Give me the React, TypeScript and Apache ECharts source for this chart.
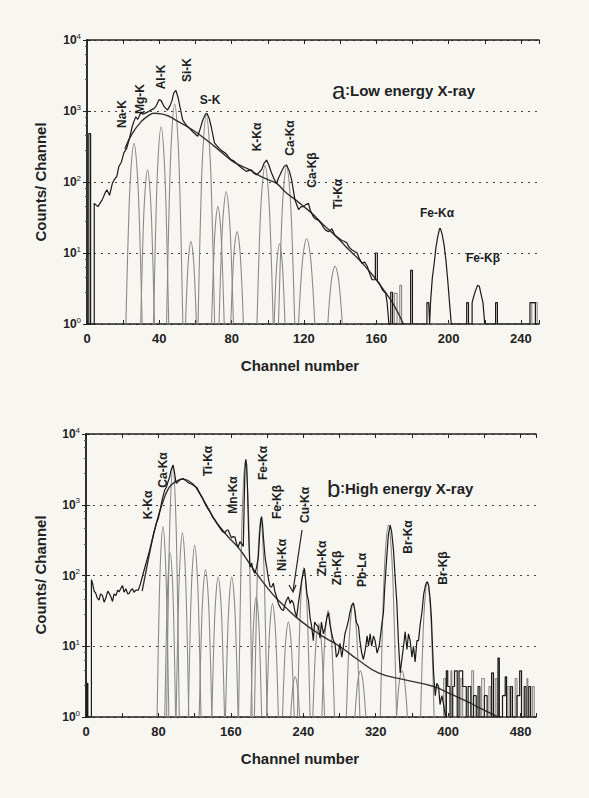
import React, { useEffect, useRef } from "react";
import * as echarts from "echarts";

const FONT = '"Liberation Sans", Arial, Helvetica, sans-serif';

// ---------- Panel a: Low energy X-ray ----------
const spectrumA: [number, number][] = [
  [0,1],[1,1],[1,480],[2,480],[2,1],[4,1],[4,50],[6,45],[8.4,56],[10,70],[11,78],[12.5,65],[14,95],[15,107],[16.5,120],[17.6,165],[19,190],[20.4,257],[22,300],[23.2,390],[24,470],[25,600],[26,720],[27,830],[28,760],[29.7,940],[31,900],[32.5,940],[34,980],[35.2,1030],[37,1080],[38,1150],[39.9,1450],[41,1400],[42.7,1150],[44.5,1030],[46,1200],[47,1400],[48,1800],[49.2,1950],[50.5,1500],[51.4,1150],[52.9,750],[54,680],[55.7,600],[57,560],[58.5,510],[60,470],[61.2,440],[62.5,550],[64,740],[65.5,900],[66.3,930],[67.5,800],[68.7,600],[70.5,355],[72,320],[73.3,295],[75,270],[77,250],[78,230],[79.8,205],[81,200],[83.5,174],[86,155],[88,141],[90.9,148],[92,135],[93.7,126],[95,135],[96.5,148],[98,185],[99.3,204],[100.5,175],[102,135],[103.5,110],[104.8,95],[106,115],[107.6,141],[109,165],[110.4,174],[112,140],[113.2,107],[115,56],[117,41],[118.5,45],[119.7,45],[121,48],[122.5,50],[123.5,40],[125.3,32],[126.5,30],[128,29],[129.5,26],[130.8,23],[132,21],[133.6,20],[135.5,22],[137,18],[138.2,17],[139.5,16],[141,15],[142.5,14.5],[143.8,13.8],[145,12],[146.6,11],[148,10.5],[149.4,10],[150.5,8.5],[152.2,7.1],[153.5,7.5],[155,6.5],[156.5,5],[157.7,4.2],[159.5,4.2],[159.5,10],[160.6,10],[160.6,4],[161.5,3.8],[162.4,3.4],[163.5,3],[165.2,2.7],[166,2],[167,1],[168,1],[168,2.8],[169,2.8],[169,1],[179,1],[179,5.7],[180,5.7],[180,1],[188,1],[188,2],[189,2],[189.5,1],[190,2],[191,4.5],[192,7],[193,12],[194,17],[195,22],[195.5,22],[196.5,18],[197.5,13],[198.5,8],[199.5,4.2],[200.5,2],[201.5,1],[210,1],[210,2],[211,2],[211,1],[213,1],[213,2],[214,2.5],[215,3],[216,3.5],[217,3.4],[218,2.6],[219,2],[220,1],[226,1],[226,2],[227,2],[227,1],[245,1],[245,2],[248,2],[248,1],[250,1],
];

const backgroundA: [number, number][] = [
  [21,295],[25,480],[30,710],[34,860],[37,930],[41,910],[45,850],[50,720],[55,610],[60,510],[65,410],[70,325],[75,255],[80,200],[85,170],[90,148],[95,124],[100,108],[105,95],[110,71],[115,57],[120,45],[125,35],[130,26],[135,20],[140,15],[145,11],[150,8.3],[155,6],[160,4.2],[165,2.8],[170,1.8],[175,1],
];

const noiseA: [number, number][] = [
  [170,1],[170,2.7],[171.5,2.7],[171.5,1],[173,1],[173,3.5],[174,3.5],[174,1],[246,1],[246,2],[249,2],[249,1],
];

const peaksA: [number, number][][] = [
  [[21.5,1],[22.85,20],[24.2,136],[26,350],[27.8,136],[29.15,20],[30.5,1]],
  [[29.7,1],[30.84,12.8],[31.98,66],[33.5,148],[35.02,66],[36.16,12.8],[37.3,1]],
  [[36.8,1],[38.06,26],[39.32,215],[41,600],[42.68,215],[43.94,26],[45.2,1]],
  [[44,1],[45.35,38],[46.7,400],[48.5,1250],[50.3,400],[51.65,38],[53,1]],
  [[54.5,1],[55.4,3.9],[56.3,9.4],[57.5,14.5],[58.7,9.4],[59.6,3.9],[60.5,1]],
  [[61.4,1],[62.78,32],[64.16,295],[66,870],[67.84,295],[69.22,32],[70.6,1]],
  [[68.9,1],[69.95,6.9],[71,24.5],[72.4,45],[73.8,24.5],[74.85,6.9],[75.9,1]],
  [[73,1],[74.2,8.9],[75.4,36],[77,73],[78.6,36],[79.8,8.9],[81,1]],
  [[79.5,1],[80.55,4.6],[81.6,12.3],[83,20],[84.4,12.3],[85.45,4.6],[86.5,1]],
  [[94,1],[95.35,13.8],[96.7,74],[98.5,170],[100.3,74],[101.65,13.8],[103,1]],
  [[103.5,1],[104.4,3.8],[105.3,8.9],[106.5,13.5],[107.7,8.9],[108.6,3.8],[109.5,1]],
  [[105.9,1],[107.25,13.5],[108.6,73],[110.4,165],[112.2,73],[113.55,13.5],[114.9,1]],
  [[117,1],[118.35,4.1],[119.7,10.2],[121.5,16],[123.3,10.2],[124.65,4.1],[126,1]],
  [[133.2,1],[134.4,2.6],[135.6,4.8],[137.2,6.5],[138.8,4.8],[140,2.6],[141.2,1]],
];

// ---------- Panel b: High energy X-ray ----------
const spectrumB: [number, number][] = [
  [0,1],[1,1],[1,3],[2,3],[2,1],[6,1],[6,87],[7,80],[9,60],[10.8,56],[12.5,48],[14.5,45],[16,55],[18.2,52],[20,42],[21.9,48],[24,60],[25.6,56],[27.5,50],[29.3,43],[31,55],[33,52],[35,62],[36.7,59],[38.5,66],[40.4,72],[42,58],[44,65],[46,55],[47.7,56],[49.5,62],[51.4,65],[53,58],[55.1,62],[57.7,62],
  [60,75],[63,105],[66,145],[70.4,230],[74,360],[77.8,550],[80,650],[83.3,1050],[85,1300],[87,1620],[89,1800],[90.5,2100],[92.5,2500],[94,3100],[96.2,3640],[97.5,3000],[99,2200],[99.9,2000],[101.5,2100],[103.6,2240],[105.5,2300],[107.3,2350],[109,2250],[111,2140],[113,2050],[114.7,2000],[117,1950],[120.2,1820],[122.5,1750],[125.7,1450],[128.5,1250],[131.2,1050],[134,900],[136.8,800],[139.5,680],[142.4,600],[145,530],[147.9,470],[150.5,420],[153.4,400],[155.5,440],[157,440],[159,380],[160.8,340],[162.5,355],[164.5,350],[166.3,280],[168,250],[170,300],[172,280],[173.7,257],
  [174.5,800],[175.5,3000],[176.5,4400],[177.5,3600],[178.5,1500],[179.5,450],[181,132],[183,150],[184.5,120],[186.6,107],[188.5,132],[190.3,180],[192,420],[193.2,640],[194,680],[195,520],[196.5,280],[198,170],[199.5,132],[201.5,90],[203.2,70],[205,69],[206.9,78],[208.5,60],[210.5,50],[212.5,40],[214.3,36],[216,33],[218,32],[220,40],[221.5,45],[223.5,50],[225.5,40],[227,45],[229,41],[231,30],[232.7,26],[234.5,40],[236.5,60],[238.3,87],[240,110],[241.2,126],[242.5,90],[244,55],[245.6,45],[247.5,25],[249,20],[251.1,12],[252.5,22],[254.5,20],[256.6,19],[258.5,13],[260,22],[262.2,15],[264,18],[266,25],[267.7,30],[269.5,20],[271.5,15],[273.2,12],[275,11],[276.5,7],[278.8,8],[280.5,11],[282.5,7],[284.3,10],[286,15],[287.8,18],[289.8,23],[291.5,30],[293.5,38],[295.4,41],[297,32],[298.5,22],[300.9,19],[302.5,12],[304.5,8],[306.4,6.5],[308.5,9],[310.5,14],[312,10],[313.8,15],[315.5,10],[317.5,14],[319.3,12],[321.5,8],[323.8,10],[325.5,15],[327,22],[328.5,30],[330,70],[332.2,185],[334,380],[335.9,515],[337.5,420],[339.6,230],[341.5,90],[343.3,41],[345,12],[347,4.2],[348.5,6],[350.7,10],[352.5,16],[354.5,9],[356.2,15],[358,12],[360,7],[361.7,10],[363.5,6],[365.5,12],[367.3,12],[369,20],[371,30],[373,55],[374.7,70],[376,80],[377.2,81],[378.5,72],[380.2,45],[381.5,25],[382.7,10],[384,4],[385.7,2],[387.5,3],[389.4,2.7],[391,1.5],[393,2],[395,1.5],[397,1],
  [398,1],[398,4.5],[399.5,4.5],[399.5,2.7],[402,2.7],[402,1],[405,1],[405,2.7],[407,2.7],[407,4.5],[410,4.5],[410,1],[412,1],[412,4.5],[416,4.5],[416,2.7],[420,2.7],[420,1],[422,1],[422,2.7],[425,2.7],[425,1],[428,1],[428,2],[431,2],[431,1],[433,1],[433,2.7],[435,2.7],[435,1],[440,1],[440,2],[443,2],[443,1],[448,1],[448,4.2],[450,4.2],[450,1],[455,1],[455,6.8],[456.5,6.8],[456.5,1],[460,1],[460,2],[463,2],[463,3.7],[464.5,3.7],[464.5,1],[469,1],[469,2.7],[471,2.7],[471,1],[476,1],[476,2],[479,2],[479,4.5],[481,4.5],[481,1],[484,1],[484,2.7],[486,2.7],[486,1],[489,1],[489,2.7],[491,2.7],[491,1],[497,1],
];

const backgroundB: [number, number][] = [
  [62,60],[66,110],[70,200],[75,400],[80,700],[85,1100],[90,1600],[95,1950],[100,2150],[106,2300],[111,2250],[115,2100],[120,1850],[125,1480],[130,1150],[135,890],[142,620],[150,450],[160,320],[168,250],[175,190],[183,132],[190,100],[200,68],[210,48],[220,36],[235,24],[257,15],[280,10],[300,6.5],[323,4.2],[350,3.4],[384,2.7],[400,2.2],[419,1.7],[437,1.3],[455,1],
];

const noiseB: [number, number][] = [
  [395,1],[395,3.5],[397,3.5],[397,1],[403,1],[403,4.5],[404,4.5],[404,1],[414,1],[414,3.5],[416,3.5],[416,1],[426,1],[426,4.5],[428,4.5],[428,1],[437,1],[437,3.5],[440,3.5],[440,1],[445,1],[445,2.7],[447,2.7],[447,1],[452,1],[452,3.5],[454,3.5],[454,1],[466,1],[466,2.7],[468,2.7],[468,1],[474,1],[474,3.5],[476,3.5],[476,1],[487,1],[487,3.5],[488,3.5],[488,1],[493,1],[493,2.7],[495,2.7],[495,1],
];

const peaksB: [number, number][][] = [
  [[78.5,1],[80.45,23.5],[82.4,182],[85,490],[87.6,182],[89.55,23.5],[91.5,1]],
  [[87,1],[88.8,15.2],[90.6,89],[93,210],[95.4,89],[97.2,15.2],[99,1]],
  [[89,1],[91.1,66],[93.2,980],[96,3600],[98.8,980],[100.9,66],[103,1]],
  [[99.5,1],[101.6,21],[103.7,153],[106.5,400],[109.3,153],[111.4,21],[113.5,1]],
  [[113,1],[115.1,17.4],[117.2,110],[120,270],[122.8,110],[124.9,17.4],[127,1]],
  [[125,1],[127.1,11.5],[129.2,56],[132,120],[134.8,56],[136.9,11.5],[139,1]],
  [[139,1],[141.1,10.2],[143.2,46],[146,95],[148.8,46],[150.9,10.2],[153,1]],
  [[154,1],[156.1,10.2],[158.2,46],[161,95],[163.8,46],[165.9,10.2],[168,1]],
  [[168.5,1],[170.75,71],[173,1100],[176,4200],[179,1100],[181.25,71],[183.5,1]],
  [[182,1],[183.8,7.4],[185.6,27],[188,50],[190.4,27],[192.2,7.4],[194,1]],
  [[186,1],[188.1,26.5],[190.2,220],[193,620],[195.8,220],[197.9,26.5],[200,1]],
  [[199.5,1],[201.45,6.6],[203.4,22],[206,40],[208.6,22],[210.55,6.6],[212.5,1]],
  [[217,1],[218.95,4.8],[220.9,13.4],[223.5,22],[226.1,13.4],[228.05,4.8],[230,1]],
  [[226,1],[227.5,1.95],[229,3],[231,3.7],[233,3],[234.5,1.95],[236,1]],
  [[233.5,1],[235.6,12],[237.7,59],[240.5,130],[243.3,59],[245.4,12],[247.5,1]],
  [[250.5,1],[252.45,4.7],[254.4,12.9],[257,21],[259.6,12.9],[261.55,4.7],[263.5,1]],
  [[260.5,1],[262.6,5.9],[264.7,18.6],[267.5,32],[270.3,18.6],[272.4,5.9],[274.5,1]],
  [[287.5,1],[289.75,6.6],[292,22],[295,40],[298,22],[300.25,6.6],[302.5,1]],
  [[297,1],[298.8,2.15],[300.6,3.5],[303,4.5],[305.4,3.5],[307.2,2.15],[309,1]],
  [[325,1],[327.7,24],[330.4,190],[334,515],[337.6,190],[340.3,24],[343,1]],
  [[343,1],[344.8,2.15],[346.6,3.5],[349,4.5],[351.4,3.5],[353.2,2.15],[355,1]],
  [[369.5,1],[371.75,9.3],[374,40],[377,80],[380,40],[382.25,9.3],[384.5,1]],
];

const labelsA: [string, number, number, boolean][] = [
  ["Na-K", 122, 114, true],
  ["Mg-K", 140, 99, true],
  ["Al-K", 161, 77, true],
  ["Si-K", 187, 70, true],
  ["S-K", 210, 100, false],
  ["K-Kα", 257, 137, true],
  ["Ca-Kα", 290, 138, true],
  ["Ca-Kβ", 312, 170, true],
  ["Ti-Kα", 338, 194, true],
  ["Fe-Kα", 437, 213, false],
  ["Fe-Kβ", 483, 258, false],
];

const labelsB: [string, number, number, boolean][] = [
  ["K-Kα", 148, 505, true],
  ["Ca-Kα", 163, 470, true],
  ["Ti-Kα", 208, 461, true],
  ["Mn-Kα", 233, 495, true],
  ["Fe-Kα", 263, 463, true],
  ["Fe-Kβ", 277, 502, true],
  ["Ni-Kα", 282, 555, true],
  ["Cu-Kα", 305, 505, true],
  ["Zn-Kα", 322, 558, true],
  ["Zn-Kβ", 337, 568, true],
  ["Pb-Lα", 362, 570, true],
  ["Br-Kα", 408, 537, true],
  ["Br-Kβ", 443, 568, true],
];

const yTickLabel = (v: number) => `{b|10}{s|${Math.round(Math.log10(v))}}`;

function makeXAxes(grid: number, max: number, interval: number, labelEvery: number) {
  const line = { lineStyle: { color: "#222", width: 1.5 } };
  return [
    {
      type: "value", gridIndex: grid, min: 0, max, interval, position: "bottom",
      axisLine: line, axisTick: { inside: true, length: 4, lineStyle: { color: "#222" } },
      splitLine: { show: false },
      axisLabel: {
        formatter: (v: number) => (v % labelEvery === 0 ? String(v) : ""),
        fontFamily: FONT, fontWeight: "bold", fontSize: 13, color: "#222", margin: 8,
      },
    },
    {
      type: "value", gridIndex: grid, min: 0, max, interval, position: "top",
      axisLine: line, axisTick: { inside: true, length: 4, lineStyle: { color: "#222" } },
      splitLine: { show: false }, axisLabel: { show: false },
    },
  ];
}

function makeYAxes(grid: number) {
  const line = { lineStyle: { color: "#222", width: 1.5 } };
  return [
    {
      type: "log", logBase: 10, gridIndex: grid, min: 1, max: 10000, position: "left",
      axisLine: line, axisTick: { inside: true, length: 4, lineStyle: { color: "#222" } },
      splitLine: { show: true, lineStyle: { color: "#444", type: [2, 5], width: 1.2 } },
      axisLabel: {
        formatter: yTickLabel, margin: 6, color: "#222",
        rich: {
          b: { fontFamily: FONT, fontSize: 12, fontWeight: "bold", color: "#222" },
          s: { fontFamily: FONT, fontSize: 8, color: "#222", padding: [0, 0, 8, 0] },
        },
      },
    },
    {
      type: "log", logBase: 10, gridIndex: grid, min: 1, max: 10000, position: "right",
      axisLine: line, axisTick: { inside: true, length: 4, lineStyle: { color: "#222" } },
      minorTick: { show: true, splitNumber: 5, length: 2, lineStyle: { color: "#555" } },
      splitLine: { show: false }, axisLabel: { show: false },
    },
  ];
}

function lineSeries(data: [number, number][], xi: number, yi: number, color: string, width: number, smooth: number | boolean, z: number) {
  return {
    type: "line", xAxisIndex: xi, yAxisIndex: yi, data, smooth, symbol: "none",
    lineStyle: { color, width }, z, silent: true,
  };
}

function textEl(text: string, x: number, y: number, vertical: boolean) {
  return {
    type: "text", x, y, rotation: vertical ? Math.PI / 2 : 0,
    style: { text, font: `bold 12px ${FONT}`, fill: "#1e1e1e", align: "center", verticalAlign: "middle" },
    z: 100,
  };
}

export default function App() {
  const ref = useRef<HTMLDivElement>(null);
  useEffect(() => {
    if (!ref.current) return;
    const chart = echarts.init(ref.current, undefined, { renderer: "svg" });
    const series: any[] = [];
    peaksA.forEach((p) => series.push(lineSeries(p, 0, 0, "#8a8a8a", 1.1, 0.4, 2)));
    series.push(lineSeries(noiseA, 0, 0, "#8a8a8a", 1.1, false, 2));
    series.push(lineSeries(backgroundA, 0, 0, "#333", 1.4, true, 3));
    series.push(lineSeries(spectrumA, 0, 0, "#1a1a1a", 1.2, false, 4));
    peaksB.forEach((p) => series.push(lineSeries(p, 2, 2, "#8a8a8a", 1.1, 0.4, 2)));
    series.push(lineSeries(noiseB, 2, 2, "#8a8a8a", 1.1, false, 2));
    series.push(lineSeries(backgroundB, 2, 2, "#333", 1.4, true, 3));
    series.push(lineSeries(spectrumB, 2, 2, "#1a1a1a", 1.2, false, 4));

    const axisTitle = (text: string, x: number, y: number, rot: number) => ({
      type: "text", x, y, rotation: rot,
      style: { text, font: `bold 15px ${FONT}`, fill: "#222", align: "center", verticalAlign: "middle" },
      z: 100,
    });
    const title = (letter: string, rest: string, x: number, y: number) => ({
      type: "text", x, y,
      style: {
        text: `{a|${letter}}{c|:}{t|${rest}}`,
        align: "left", verticalAlign: "middle",
        rich: {
          a: { fontFamily: FONT, fontSize: 24, fill: "#222" },
          c: { fontFamily: FONT, fontSize: 14, fontWeight: "bold", fill: "#222" },
          t: { fontFamily: FONT, fontSize: 15, fontWeight: "bold", fill: "#222" },
        },
      },
      z: 100,
    });

    const graphic: any[] = [
      axisTitle("Counts/ Channel", 40, 182, Math.PI / 2),
      axisTitle("Channel number", 300, 365, 0),
      axisTitle("Counts/ Channel", 40, 575, Math.PI / 2),
      axisTitle("Channel number", 300, 758, 0),
      title("a", "Low energy X-ray", 332, 90),
      title("b", "High energy X-ray", 327, 488),
      ...labelsA.map(([t, x, y, v]) => textEl(t, x, y, v)),
      ...labelsB.map(([t, x, y, v]) => textEl(t, x, y, v)),
      { type: "line", shape: { x1: 302, y1: 530, x2: 293, y2: 591 }, style: { stroke: "#222", lineWidth: 1.2 }, z: 100 },
      { type: "polyline", shape: { points: [[289, 585], [293, 592], [296, 585]] }, style: { stroke: "#222", lineWidth: 1.2, fill: null }, z: 100 },
    ];

    chart.setOption({
      animation: false,
      backgroundColor: "#f7f6f1",
      grid: [
        { left: 87, top: 40, width: 452, height: 284 },
        { left: 86, top: 434, width: 450, height: 283 },
      ],
      xAxis: [...makeXAxes(0, 250, 20, 40), ...makeXAxes(1, 497, 40, 80)],
      yAxis: [...makeYAxes(0), ...makeYAxes(1)],
      series,
      graphic,
    });
    return () => chart.dispose();
  }, []);
  return <div ref={ref} style={{ position: "absolute", left: 0, top: 0, width: 589, height: 798 }} />;
}
